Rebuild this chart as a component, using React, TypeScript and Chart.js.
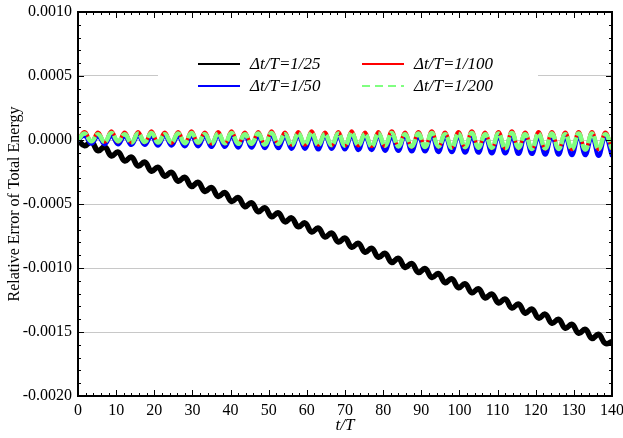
import React, { useEffect, useRef } from "react";
import { Chart, registerables } from "chart.js";
Chart.register(...registerables);

const tValues = [0, 1.75, 3.5, 5.25, 7, 8.75, 10.5, 12.25, 14, 15.75, 17.5, 19.25, 21, 22.75, 24.5, 26.25, 28, 29.75, 31.5, 33.25, 35, 36.75, 38.5, 40.25, 42, 43.75, 45.5, 47.25, 49, 50.75, 52.5, 54.25, 56, 57.75, 59.5, 61.25, 63, 64.75, 66.5, 68.25, 70, 71.75, 73.5, 75.25, 77, 78.75, 80.5, 82.25, 84, 85.75, 87.5, 89.25, 91, 92.75, 94.5, 96.25, 98, 99.75, 101.5, 103.25, 105, 106.75, 108.5, 110.25, 112, 113.75, 115.5, 117.25, 119, 120.75, 122.5, 124.25, 126, 127.75, 129.5, 131.25, 133, 134.75, 136.5, 138.25, 140];

const dt25 = [0, -4.5e-5, -1.5e-5, -8.4e-5, -5.4e-5, -12.4e-5, -9.4e-5, -16.4e-5, -13.3e-5, -20.3e-5, -17.3e-5, -24.3e-5, -21.3e-5, -28.2e-5, -25.2e-5, -32.2e-5, -29.2e-5, -36.2e-5, -33.1e-5, -40.1e-5, -37.1e-5, -44.1e-5, -41.1e-5, -48.0e-5, -45.0e-5, -52.0e-5, -49.0e-5, -56.0e-5, -52.9e-5, -59.9e-5, -56.9e-5, -63.9e-5, -60.9e-5, -67.8e-5, -64.8e-5, -71.8e-5, -68.8e-5, -75.8e-5, -72.7e-5, -79.7e-5, -76.7e-5, -83.7e-5, -80.7e-5, -87.6e-5, -84.6e-5, -91.6e-5, -88.6e-5, -95.6e-5, -92.5e-5, -99.5e-5, -96.5e-5, -103.5e-5, -100.5e-5, -107.4e-5, -104.4e-5, -111.4e-5, -108.4e-5, -115.4e-5, -112.3e-5, -119.3e-5, -116.3e-5, -123.3e-5, -120.3e-5, -127.2e-5, -124.2e-5, -131.2e-5, -128.2e-5, -135.2e-5, -132.1e-5, -139.1e-5, -136.1e-5, -143.1e-5, -140.1e-5, -147.0e-5, -144.0e-5, -151.0e-5, -148.0e-5, -155.0e-5, -151.9e-5, -158.9e-5, -157.5e-5];

const dt50 = [0, 3e-5, -3e-5, 2.5e-5, -3.5e-5, 3e-5, -3.5e-5, 2.5e-5, -4e-5, 3e-5, -4e-5, 2.5e-5, -4.5e-5, 3e-5, -4.5e-5, 2.5e-5, -5e-5, 3e-5, -5e-5, 2.5e-5, -5.5e-5, 3e-5, -5.5e-5, 2.5e-5, -6e-5, 3e-5, -6e-5, 2.5e-5, -6.5e-5, 3e-5, -6.5e-5, 2.5e-5, -7e-5, 3e-5, -7e-5, 2.5e-5, -7.5e-5, 3e-5, -7e-5, 2.5e-5, -7.5e-5, 3e-5, -8e-5, 2.5e-5, -8e-5, 3e-5, -8.5e-5, 2.5e-5, -8.5e-5, 3e-5, -9e-5, 2.5e-5, -9e-5, 3e-5, -9.5e-5, 2.5e-5, -9.5e-5, 3e-5, -10e-5, 2.5e-5, -10e-5, 2e-5, -10.5e-5, 2.5e-5, -10.5e-5, 2e-5, -11e-5, 2.5e-5, -11e-5, 2e-5, -11.5e-5, 2.5e-5, -11.5e-5, 2e-5, -12e-5, 2.5e-5, -12e-5, 2e-5, -12.5e-5, 2e-5, -13e-5];

const dt100 = [0, 6.5e-5, -1e-5, 6e-5, -1.5e-5, 7e-5, -1.5e-5, 6e-5, -2e-5, 6.5e-5, -2e-5, 7e-5, -2e-5, 6e-5, -2.5e-5, 6.5e-5, -2.5e-5, 7e-5, -2.5e-5, 6e-5, -3e-5, 6.5e-5, -3e-5, 7e-5, -3e-5, 6e-5, -3.5e-5, 6.5e-5, -3.5e-5, 7e-5, -3.5e-5, 6e-5, -4e-5, 6.5e-5, -4e-5, 7e-5, -4e-5, 6e-5, -4.5e-5, 6.5e-5, -4.5e-5, 7e-5, -4.5e-5, 6e-5, -5e-5, 6.5e-5, -5e-5, 7e-5, -5e-5, 6e-5, -5.5e-5, 6.5e-5, -5.5e-5, 7e-5, -5.5e-5, 6e-5, -6e-5, 6.5e-5, -6e-5, 7e-5, -6e-5, 6e-5, -6.5e-5, 6.5e-5, -6.5e-5, 7e-5, -6.5e-5, 6e-5, -7e-5, 6.5e-5, -7e-5, 6.5e-5, -7e-5, 6e-5, -7.5e-5, 6.5e-5, -7.5e-5, 6.5e-5, -7.5e-5, 6e-5, -7.5e-5];

const dt200 = [0, 5e-5, -1e-5, 4.5e-5, -1.5e-5, 5.5e-5, -1e-5, 4.5e-5, -2e-5, 5e-5, -1.5e-5, 5.5e-5, -2e-5, 4.5e-5, -2e-5, 5e-5, -2.5e-5, 5.5e-5, -2e-5, 4.5e-5, -3e-5, 5e-5, -2.5e-5, 5.5e-5, -3e-5, 4.5e-5, -3e-5, 5e-5, -3.5e-5, 5.5e-5, -3e-5, 4.5e-5, -4e-5, 5e-5, -3.5e-5, 5.5e-5, -4e-5, 4.5e-5, -4e-5, 5e-5, -4.5e-5, 5.5e-5, -4e-5, 4.5e-5, -5e-5, 5e-5, -4.5e-5, 5.5e-5, -5e-5, 4.5e-5, -5e-5, 5e-5, -5.5e-5, 5.5e-5, -5e-5, 4.5e-5, -6e-5, 5e-5, -5.5e-5, 5.5e-5, -6e-5, 4.5e-5, -6e-5, 5e-5, -6.5e-5, 5.5e-5, -6e-5, 4.5e-5, -7e-5, 5e-5, -6.5e-5, 5e-5, -7e-5, 4.5e-5, -7e-5, 5e-5, -7.5e-5, 5e-5, -7e-5, 4.5e-5, -7e-5];

const seriesLabels = ["\u0394t/T=1/25", "\u0394t/T=1/50", "\u0394t/T=1/100", "\u0394t/T=1/200"];
const seriesColors = ["#000000", "#0000ff", "#ff0000", "#80ff80"];

const xMajorTicks = [0, 10, 20, 30, 40, 50, 60, 70, 80, 90, 100, 110, 120, 130, 140];
const yMajorTicks = [0.001, 0.0005, 0, -0.0005, -0.001, -0.0015, -0.002];

const SERIF = "'Liberation Serif', 'DejaVu Serif', serif";

const toPoints = (vals: number[]) => vals.map((v, i) => ({ x: tValues[i], y: v }));

const framePlugin = {
  id: "frame",
  afterDraw(chart: any) {
    const { ctx, chartArea: a, scales } = chart;
    const xs = scales.x;
    const ys = scales.y;
    ctx.save();
    ctx.strokeStyle = "#000";
    ctx.lineWidth = 1;
    for (let v = 0; v <= 140; v += 2) {
      const px = Math.round(xs.getPixelForValue(v)) + 0.5;
      const len = v % 10 === 0 ? 6 : 3;
      ctx.beginPath();
      ctx.moveTo(px, a.bottom);
      ctx.lineTo(px, a.bottom - len);
      ctx.moveTo(px, a.top);
      ctx.lineTo(px, a.top + len);
      ctx.stroke();
    }
    for (let i = 0; i <= 30; i++) {
      const v = -0.002 + i * 0.0001;
      const py = Math.round(ys.getPixelForValue(v)) + 0.5;
      const len = i % 5 === 0 ? 6 : 3;
      ctx.beginPath();
      ctx.moveTo(a.left, py);
      ctx.lineTo(a.left + len, py);
      ctx.moveTo(a.right, py);
      ctx.lineTo(a.right - len, py);
      ctx.stroke();
    }
    ctx.lineWidth = 2;
    ctx.strokeRect(a.left, a.top, a.right - a.left, a.bottom - a.top);

    // legend
    ctx.fillStyle = "#fff";
    ctx.fillRect(158, 46, 380, 56);
    ctx.font = `italic 17px ${SERIF}`;
    ctx.textBaseline = "middle";
    ctx.textAlign = "left";
    const pos = [
      { lx: 198, tx: 250, y: 64 },
      { lx: 198, tx: 250, y: 86 },
      { lx: 362, tx: 414, y: 64 },
      { lx: 362, tx: 414, y: 86 },
    ];
    pos.forEach((p, i) => {
      ctx.strokeStyle = seriesColors[i];
      ctx.lineWidth = 2;
      ctx.setLineDash(i === 3 ? [8, 5] : []);
      ctx.beginPath();
      ctx.moveTo(p.lx, p.y);
      ctx.lineTo(p.lx + 42, p.y);
      ctx.stroke();
      ctx.setLineDash([]);
      ctx.fillStyle = "#000";
      ctx.fillText(seriesLabels[i], p.tx, p.y + 1);
    });
    ctx.restore();
  },
};

export default function App() {
  const ref = useRef<HTMLCanvasElement | null>(null);
  useEffect(() => {
    document.body.style.margin = "0";
    const canvas = ref.current!;
    const chart = new Chart(canvas, {
      type: "line",
      data: {
        datasets: [
          { label: seriesLabels[0], data: toPoints(dt25), borderColor: seriesColors[0], borderWidth: 5.5, tension: 0.45, pointRadius: 0, order: 3 },
          { label: seriesLabels[1], data: toPoints(dt50), borderColor: seriesColors[1], borderWidth: 4, tension: 0.45, pointRadius: 0, order: 2 },
          { label: seriesLabels[2], data: toPoints(dt100), borderColor: seriesColors[2], borderWidth: 3.5, tension: 0.45, pointRadius: 0, order: 1 },
          { label: seriesLabels[3], data: toPoints(dt200), borderColor: seriesColors[3], borderWidth: 4.5, tension: 0.45, borderDash: [12, 2], pointRadius: 0, order: 0 },
        ],
      },
      options: {
        responsive: false,
        animation: false,
        layout: { padding: { top: 12, right: 11, left: 0, bottom: 0 } },
        plugins: { legend: { display: false }, tooltip: { enabled: false } },
        scales: {
          x: {
            type: "linear",
            min: 0,
            max: 140,
            afterBuildTicks: (s: any) => { s.ticks = xMajorTicks.map((v) => ({ value: v })); },
            afterFit: (s: any) => { s.height = 42; s.paddingLeft = 0; s.paddingRight = 0; },
            ticks: { color: "#000", font: { family: SERIF, size: 16 }, padding: 5, maxRotation: 0, autoSkip: false },
            grid: { display: false, drawTicks: false },
            border: { display: false },
            title: { display: true, text: "t/T", color: "#000", font: { family: SERIF, size: 17, style: "italic" }, padding: { top: 0, bottom: 2 } },
          },
          y: {
            type: "linear",
            min: -0.002,
            max: 0.001,
            afterBuildTicks: (s: any) => { s.ticks = yMajorTicks.map((v) => ({ value: v })); },
            afterFit: (s: any) => { s.width = 78; s.paddingTop = 0; s.paddingBottom = 0; },
            ticks: { color: "#000", font: { family: SERIF, size: 16 }, padding: 6, callback: (v: any) => Number(v).toFixed(4) },
            grid: { color: "#c8c8c8", drawTicks: false, lineWidth: 1 },
            border: { display: false },
            title: { display: true, text: "Relative Error of Total Energy", color: "#000", font: { family: SERIF, size: 16 }, padding: { top: 5, bottom: 0 } },
          },
        },
      },
      plugins: [framePlugin],
    } as any);
    return () => chart.destroy();
  }, []);
  return <canvas ref={ref} width={623} height={438} style={{ display: "block" }} />;
}
